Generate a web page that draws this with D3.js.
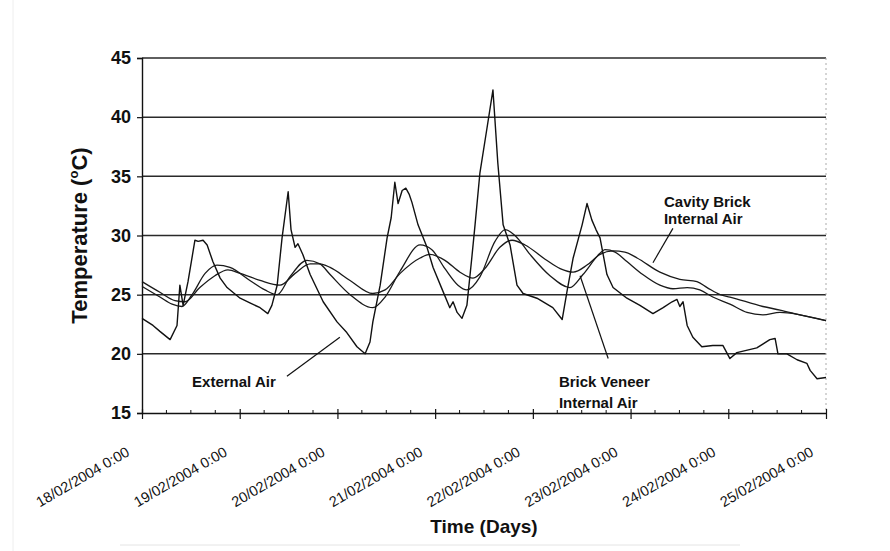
<!DOCTYPE html>
<html>
<head>
<meta charset="utf-8">
<script src="https://cdnjs.cloudflare.com/ajax/libs/d3/7.8.5/d3.min.js"></script>
<style>
  body { margin: 0; background: #fff; }
  svg { display: block; font-family: "Liberation Sans", Arial, sans-serif; }
  .tick text { fill: #111; }
</style>
</head>
<body>
<svg width="890" height="551"></svg>
<script>
// hours since 18/02/2004 0:00, temperatures in degC
var extHours = [0, 2.7, 4.4, 6.9, 8.6, 9.3, 10.1, 11.3, 13.0, 13.8, 15.0, 16.0, 17.4, 19.2, 20.9, 24.1, 26.5, 29.0, 30.9, 31.9,
  33.2, 34.4, 35.9, 36.6, 37.6, 38.3, 39.5, 41.3, 44.5, 47.9, 50.3, 52.8, 54.8, 56.0, 56.7, 58.5, 60.2, 61.2, 62.1, 62.9,
  63.9, 64.8, 65.6, 66.3, 67.8, 70.0, 71.5, 73.9, 75.6, 76.4, 77.4, 78.6, 79.8, 81.0, 81.8, 83.0, 84.7, 86.2, 87.4, 88.7,
  89.2, 90.4, 92.1, 93.6, 97.0, 100.9, 103.2, 104.4, 105.9, 108.1, 109.3, 110.5, 111.5, 112.5, 114.2, 115.7, 119.1, 122.3, 125.5, 128.0,
  130.2, 131.4, 132.1, 132.9, 133.9, 135.3, 137.5, 140.2, 142.7, 144.4, 146.1, 151.0, 154.2, 155.5, 156.2, 158.4, 160.9, 163.3, 164.1, 165.8, 168];
var extTemp = [23.0, 22.4, 21.9, 21.2, 22.4, 25.8, 24.1, 26.1, 29.6, 29.5, 29.6, 29.2, 27.8, 26.4, 25.6, 24.7, 24.3, 23.9, 23.4, 24.1,
  25.8, 29.8, 33.7, 30.5, 29.0, 29.3, 28.4, 26.7, 24.4, 22.7, 21.8, 20.6, 20.0, 21.0, 22.7, 25.8, 29.8, 31.5, 34.5, 32.7,
  33.8, 34.0, 33.5, 32.8, 30.9, 29.0, 27.3, 25.3, 23.9, 24.4, 23.5, 23.0, 24.1, 28.1, 30.9, 35.3, 39.0, 42.3, 36.1, 30.9,
  30.4, 29.2, 25.8, 25.1, 24.7, 23.9, 22.9, 25.3, 28.1, 30.9, 32.7, 31.3, 30.5, 29.8, 26.7, 25.6, 24.7, 24.1, 23.4, 23.9,
  24.4, 24.6, 24.0, 24.4, 22.4, 21.4, 20.6, 20.7, 20.7, 19.6, 20.1, 20.5, 21.2, 21.3, 20.0, 20.0, 19.5, 19.2, 18.6, 17.9, 18.0];

var cavHours = [0, 4.4, 8.1, 10.6, 14.2, 17.9, 21.1, 24.1, 29.0, 33.9, 37.6, 41.3, 43.7, 46.2, 51.1, 56.7, 59.7, 63.4, 68.3, 70.7,
  74.4, 78.1, 81.3, 84.2, 87.9, 90.9, 94.1, 99.0, 102.7, 105.9, 109.3, 112.5, 115.7, 118.6, 121.6, 127.2, 132.1, 136.3, 138.8, 142.0,
  144.4, 152.5, 156.7, 161.6, 168];
var cavTemp = [26.1, 25.2, 24.5, 24.4, 25.6, 26.6, 27.1, 26.8, 26.2, 25.8, 26.8, 27.6, 27.6, 27.3, 26.2, 25.1, 25.4, 26.8, 28.1, 28.4,
  27.9, 26.9, 26.4, 27.2, 29.0, 29.6, 29.2, 28.0, 27.2, 26.9, 27.5, 28.4, 28.7, 28.6, 28.1, 26.9, 26.3, 26.1, 25.6, 25.0,
  24.8, 24.0, 23.7, 23.3, 22.8];

var venHours = [0, 4.4, 7.4, 9.8, 12.3, 15.5, 18.4, 21.6, 26.5, 30.2, 33.2, 36.3, 40.5, 43.7, 46.2, 51.1, 56.7, 59.7, 63.4, 68.3,
  71.2, 74.4, 77.6, 79.8, 83.0, 86.7, 89.2, 91.6, 95.3, 100.2, 105.1, 108.3, 112.5, 113.7, 116.2, 119.1, 123.0, 127.2, 130.4, 133.9,
  137.0, 140.2, 144.4, 148.6, 152.5, 156.7, 161.6, 168];
var venTemp = [25.7, 24.8, 24.2, 24.0, 25.0, 26.8, 27.5, 27.3, 26.2, 25.4, 25.0, 26.5, 27.9, 27.6, 26.7, 25.0, 23.9, 24.8, 27.0, 29.2,
  28.8, 27.2, 25.8, 25.4, 26.5, 29.5, 30.5, 30.0, 28.4, 26.6, 25.6, 26.7, 28.5, 28.8, 28.6, 27.8, 26.7, 25.8, 25.5, 25.6,
  25.4, 24.8, 24.2, 23.5, 23.3, 23.5, 23.3, 22.8];

var yTicks = [15, 20, 25, 30, 35, 40, 45];
var startDay = new Date(2004, 1, 18);
var endDay = new Date(2004, 1, 25);

// annotations: text lines at (hour, temp), leader from/to (hour, temp)
var notes = [
  { lines: ["Cavity Brick", "Internal Air"], h: 128.2, t: [32.4, 31.0], lead: [[130.4, 30.6], [125.5, 27.7]] },
  { lines: ["External Air"], h: 12.3, t: [17.2], lead: [[35.6, 18.1], [48.6, 21.4]] },
  { lines: ["Brick Veneer", "Internal Air"], h: 102.4, t: [17.2, 15.4], lead: [[107.6, 26.6], [114.5, 19.6]] }
];

function toDate(h) { return new Date(startDay.getTime() + h * 3600e3); }
function pairs(hours, temps) { return hours.map(function(h, i) { return { d: toDate(h), v: temps[i] }; }); }

var svg = d3.select("svg");
var plotL = 142, plotR = 826, plotT = 58, plotB = 413;

var x = d3.scaleTime().domain([startDay, endDay]).range([plotL, plotR]);
var y = d3.scaleLinear().domain([15, 45]).range([plotB, plotT]);

// faint scan edges
svg.append("line").attr("x1", 13).attr("x2", 13).attr("y1", 0).attr("y2", 551).attr("stroke", "#eee");
svg.append("line").attr("x1", 120).attr("x2", 740).attr("y1", 545).attr("y2", 545).attr("stroke", "#e4e4e4");

// gridlines
svg.append("g").selectAll("line")
  .data(yTicks.slice(1))
  .enter().append("line")
  .attr("x1", plotL).attr("x2", plotR)
  .attr("y1", function(d) { return y(d); }).attr("y2", function(d) { return y(d); })
  .attr("stroke", "#2a2a2a").attr("stroke-width", 1.5);

// right border, dotted
svg.append("line")
  .attr("x1", plotR).attr("x2", plotR).attr("y1", plotT).attr("y2", plotB)
  .attr("stroke", "#aaa").attr("stroke-dasharray", "2,3");

// y axis
var yAxis = svg.append("g")
  .attr("transform", "translate(" + plotL + ",0)")
  .call(d3.axisLeft(y).tickValues(yTicks).tickSize(5).tickPadding(6));
yAxis.select(".domain").attr("stroke", "#111").attr("stroke-width", 1.4);
yAxis.selectAll(".tick line").attr("stroke", "#111").attr("stroke-width", 1.2);
yAxis.selectAll(".tick text").attr("font-size", 18).attr("font-weight", "bold");

// x axis
var fmt = d3.timeFormat("%d/%m/%Y %-H:%M");
var xAxis = svg.append("g")
  .attr("transform", "translate(0," + plotB + ")")
  .call(d3.axisBottom(x).ticks(d3.timeDay.every(1)).tickFormat(fmt).tickSizeOuter(0));
xAxis.select(".domain").attr("stroke", "#111").attr("stroke-width", 1.4);
xAxis.selectAll(".tick line").attr("y1", -4).attr("y2", 6).attr("stroke", "#111").attr("stroke-width", 1.2);
xAxis.selectAll(".tick text")
  .attr("x", 0).attr("y", 0).attr("dy", 0)
  .attr("text-anchor", "end")
  .attr("transform", "translate(-12,42) rotate(-30)")
  .attr("font-size", 14.5);

// minor ticks every 6 hours
svg.append("g").selectAll("line")
  .data(x.ticks(d3.timeHour.every(6)).filter(function(d) { return d.getHours() !== 0; }))
  .enter().append("line")
  .attr("x1", function(d) { return x(d); }).attr("x2", function(d) { return x(d); })
  .attr("y1", plotB - 3).attr("y2", plotB + 1)
  .attr("stroke", "#111").attr("stroke-width", 1);

// series
var smooth = d3.line().x(function(p) { return x(p.d); }).y(function(p) { return y(p.v); }).curve(d3.curveMonotoneX);
var jagged = d3.line().x(function(p) { return x(p.d); }).y(function(p) { return y(p.v); });

svg.append("path").datum(pairs(cavHours, cavTemp)).attr("d", smooth)
  .attr("fill", "none").attr("stroke", "#1a1a1a").attr("stroke-width", 1.3);
svg.append("path").datum(pairs(venHours, venTemp)).attr("d", smooth)
  .attr("fill", "none").attr("stroke", "#1a1a1a").attr("stroke-width", 1.3);
svg.append("path").datum(pairs(extHours, extTemp)).attr("d", jagged)
  .attr("fill", "none").attr("stroke", "#111").attr("stroke-width", 1.4).attr("stroke-linejoin", "round");

// annotations
notes.forEach(function(n) {
  svg.append("line")
    .attr("x1", x(toDate(n.lead[0][0]))).attr("y1", y(n.lead[0][1]))
    .attr("x2", x(toDate(n.lead[1][0]))).attr("y2", y(n.lead[1][1]))
    .attr("stroke", "#111").attr("stroke-width", 1.2);
  n.lines.forEach(function(s, i) {
    svg.append("text")
      .attr("x", x(toDate(n.h))).attr("y", y(n.t[i]))
      .attr("font-size", 15).attr("font-weight", "bold").attr("fill", "#111")
      .text(s);
  });
});

// axis titles
var yt = svg.append("text")
  .attr("transform", "translate(87," + ((plotT + plotB) / 2) + ") rotate(-90)")
  .attr("text-anchor", "middle")
  .attr("font-size", 22).attr("font-weight", "bold").attr("fill", "#111");
yt.append("tspan").text("Temperature (");
yt.append("tspan").attr("font-size", 13).attr("dy", -9).text("o");
yt.append("tspan").attr("dy", 9).text("C)");

svg.append("text")
  .attr("x", (plotL + plotR) / 2).attr("y", 533)
  .attr("text-anchor", "middle")
  .attr("font-size", 19).attr("font-weight", "bold").attr("fill", "#111")
  .text("Time (Days)");
</script>
</body>
</html>
